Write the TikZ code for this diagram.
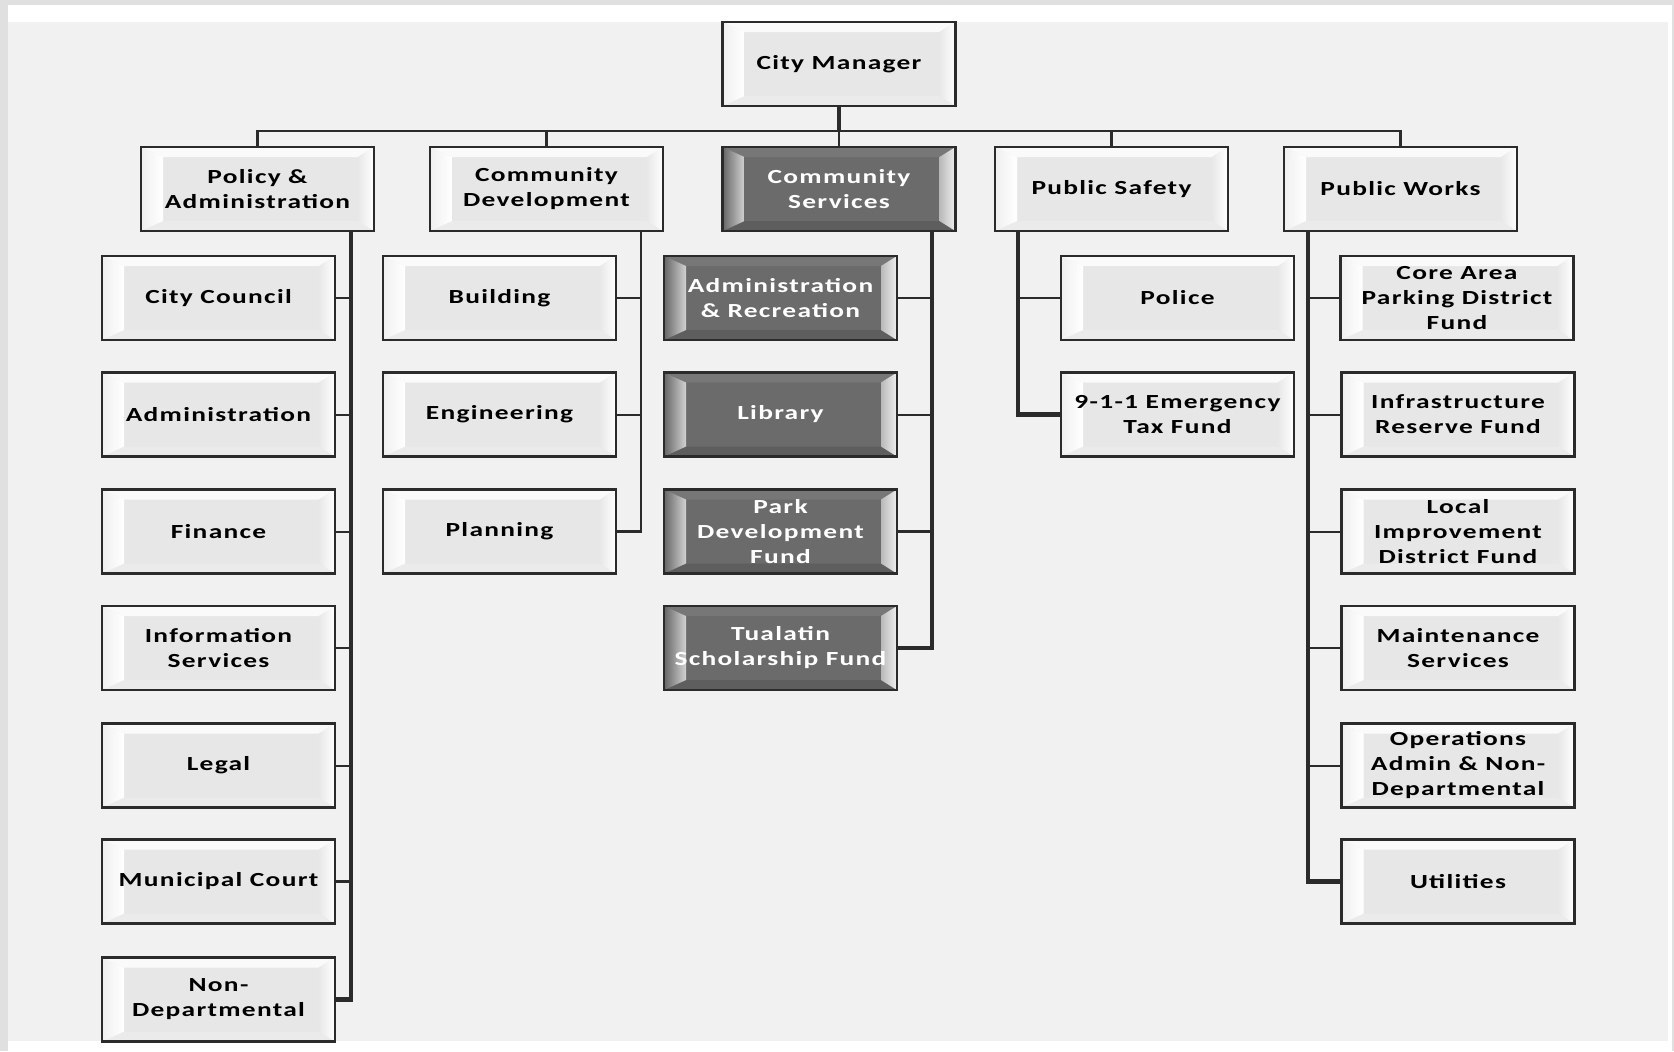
\documentclass[tikz,border=0pt]{standalone}
\usepackage{fontspec}
\newfontfamily\boxfont[FakeStretch=1.37,LetterSpace=6.5]{Carlito}
\usetikzlibrary{calc}
\definecolor{framegray}{HTML}{E0E0E0}
\definecolor{canvas}{HTML}{F1F1F1}
\definecolor{ink}{HTML}{2B2B2B}
\definecolor{darkface}{HTML}{6B6B6B}
\definecolor{lightface}{HTML}{E7E7E7}
% bevel: #1 top, #2 bottom, #3/#4 left shading (outer/inner), #5/#6 right shading (inner/outer)
\newcommand\bevelpp[6]{%
  \fill[#1] (path picture bounding box.north west) -- (path picture bounding box.north east)
     -- ([xshift=-8pt,yshift=-5pt]path picture bounding box.north east)
     -- ([xshift=11pt,yshift=-5pt]path picture bounding box.north west) -- cycle;
  \fill[#2] (path picture bounding box.south west) -- (path picture bounding box.south east)
     -- ([xshift=-8pt,yshift=5pt]path picture bounding box.south east)
     -- ([xshift=11pt,yshift=5pt]path picture bounding box.south west) -- cycle;
  \shade[left color=#3,right color=#4] (path picture bounding box.north west) -- (path picture bounding box.south west)
     -- ([xshift=11pt,yshift=5pt]path picture bounding box.south west)
     -- ([xshift=11pt,yshift=-5pt]path picture bounding box.north west) -- cycle;
  \shade[left color=#5,right color=#6] (path picture bounding box.north east) -- (path picture bounding box.south east)
     -- ([xshift=-8pt,yshift=5pt]path picture bounding box.south east)
     -- ([xshift=-8pt,yshift=-5pt]path picture bounding box.north east) -- cycle;
}
\tikzset{
  orgbox/.style={draw=ink, line width=1.2pt, minimum width=116.5pt, minimum height=42pt,
    inner sep=0pt, align=center, font=\boxfont\bfseries\fontsize{10}{12.5}\selectfont},
  lbox/.style={orgbox, fill=lightface, text=black,
    path picture={\bevelpp{gray!4}{gray!16}{gray!12}{white}{gray!18}{white}}},
  dbox/.style={orgbox, fill=darkface, text=white,
    path picture={\bevelpp{darkface!92!white}{darkface!88!black}{darkface!95!black}{gray!35}{gray!55}{gray!12}}},
  link/.style={draw=ink, line width=1pt},
  midlink/.style={draw=ink, line width=1.6pt},
  busline/.style={draw=ink, line width=1.3pt},
  trunk/.style={draw=ink, line width=2.2pt},
  bar/.style={draw=ink, line width=2.4pt},
  thinbar/.style={draw=ink, line width=1.4pt},
}
\begin{document}
\begin{tikzpicture}[x=0.5pt,y=-0.5pt]
\useasboundingbox (0,0) rectangle (1674,1051);
\fill[framegray] (0,0) rectangle (1674,1051);
\fill[white] (8,5) rectangle (1672,1051);
\fill[canvas] (8,22) rectangle (1668,1041);

% top levels
\node[lbox] (cm) at (839,64) {City Manager};
\node[lbox] (pol) at (257.5,189) {Policy \&\\Administration};
\node[lbox] (cd) at (546.5,189) {Community\\Development};
\node[dbox] (cs) at (839,189) {Community\\Services};
\node[lbox] (ps) at (1111.5,189) {Public Safety};
\node[lbox] (pw) at (1400.5,189) {Public Works};

% Policy & Administration
\node[lbox] (cc) at (218.5,298) {City Council};
\node[lbox] (adm) at (218.5,414.5) {Administration};
\node[lbox] (fin) at (218.5,531.5) {Finance};
\node[lbox] (info) at (218.5,648) {Information\\Services};
\node[lbox] (legal) at (218.5,765.5) {Legal};
\node[lbox] (court) at (218.5,881.5) {Municipal Court};
\node[lbox] (nond) at (218.5,999.5) {Non-\\Departmental};

% Community Development
\node[lbox] (bld) at (499.5,298) {Building};
\node[lbox] (eng) at (499.5,414.5) {Engineering};
\node[lbox] (pln) at (499.5,531.5) {Planning};

% Community Services
\node[dbox] (ar) at (780.5,298) {Administration\\\& Recreation};
\node[dbox] (lib) at (780.5,414.5) {Library};
\node[dbox] (park) at (780.5,531.5) {Park\\Development\\Fund};
\node[dbox] (tual) at (780.5,648) {Tualatin\\Scholarship Fund};

% Public Safety
\node[lbox] (police) at (1177.5,298) {Police};
\node[lbox] (e911) at (1177.5,414.5) {9-1-1 Emergency\\Tax Fund};

% Public Works
\node[lbox] (core) at (1457,298) {Core Area\\Parking District\\Fund};
\node[lbox] (infra) at (1458,414.5) {Infrastructure\\Reserve Fund};
\node[lbox] (lid) at (1458,531.5) {Local\\Improvement\\District Fund};
\node[lbox] (maint) at (1458,648) {Maintenance\\Services};
\node[lbox] (ops) at (1458,765.5) {Operations\\Admin \& Non-\\Departmental};
\node[lbox] (util) at (1458,881.5) {Utilities};

% bar positions
\coordinate (polbar) at (351,231);
\coordinate (cdbar) at (641,231);
\coordinate (csbar) at (932,231);
\coordinate (psbar) at (1018,231);
\coordinate (pwbar) at (1308,231);
\coordinate (bus) at (839,131);

% top connectors
\draw[trunk] (cm.south) -- (bus);
\draw[busline] (pol.north) |- (bus) -| (pw.north);
\draw[busline] (cd.north) -- (cd.north |- bus);
\draw[busline] (cs.north) -- (bus);
\draw[busline] (ps.north) -- (ps.north |- bus);

% Policy
\foreach \c in {cc,adm,fin,info,legal} \draw[link] (\c.east) -- (\c.east -| polbar);
\draw[midlink] (court.east) -- (court.east -| polbar);
\draw[bar] (pol.south -| polbar) |- (nond.east);

% Community Development
\foreach \c in {bld,eng} \draw[link] (\c.east) -- (\c.east -| cdbar);
\draw[thinbar] (cd.south -| cdbar) |- (pln.east);

% Community Services
\foreach \c in {ar,lib} \draw[link] (\c.east) -- (\c.east -| csbar);
\draw[midlink] (park.east) -- (park.east -| csbar);
\draw[bar] (cs.south -| csbar) |- (tual.east);

% Public Safety
\draw[link] (police.west) -- (police.west -| psbar);
\draw[bar] (ps.south -| psbar) |- (e911.west);

% Public Works
\foreach \c in {core,infra,lid,maint,ops} \draw[link] (\c.west) -- (\c.west -| pwbar);
\draw[bar] (pw.south -| pwbar) |- (util.west);
\end{tikzpicture}
\end{document}
